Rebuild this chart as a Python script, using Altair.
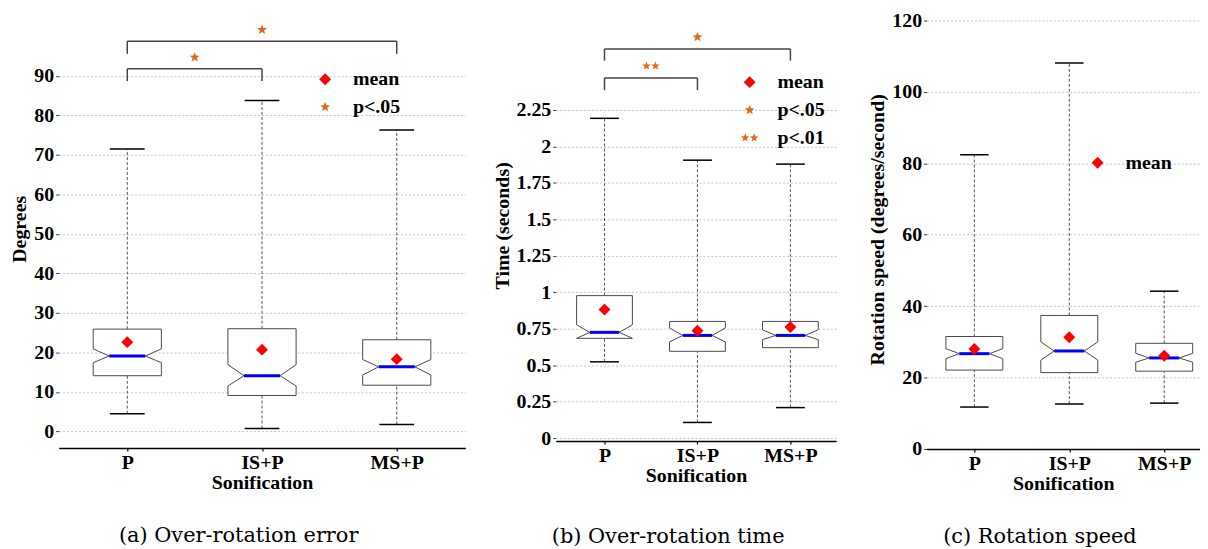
import math
import json
import altair as alt
import pandas as pd

CATS = ["P", "IS+P", "MS+P"]
POS = [1, 2, 3]

# ---------------- (a) Over-rotation error ----------------
A_Q1 = [14.1, 9.1, 11.7]
A_NLO = [17.4, 11.5, 14.3]
A_MED = [19.1, 14.1, 16.35]
A_NHI = [20.9, 16.9, 18.2]
A_Q3 = [25.9, 26.0, 23.2]
A_WLO = [4.5, 0.75, 1.75]
A_WHI = [71.5, 83.8, 76.3]
A_MEAN = [22.6, 20.7, 18.3]
A_PAIRS = [(1, 2), (1, 3)]
A_SIG = ["p<.05", "p<.05"]
A_BR_LOW = [88.7, 95.6]
A_BR_TOP = [91.8, 98.8]
A_STAR = [94.7, 101.7]
A_TICKS = [0, 10, 20, 30, 40, 50, 60, 70, 80, 90]

# ---------------- (b) Over-rotation time ----------------
B_Q1 = [0.684, 0.595, 0.62]
B_NLO = [0.684, 0.659, 0.675]
B_MED = [0.725, 0.704, 0.704]
B_NHI = [0.777, 0.755, 0.743]
B_Q3 = [0.977, 0.80, 0.80]
B_WLO = [0.523, 0.107, 0.209]
B_WHI = [2.193, 1.906, 1.879]
B_MEAN = [0.881, 0.736, 0.761]
B_PAIRS = [(1, 2), (1, 3)]
B_SIG = ["p<.01", "p<.05"]
B_BR_LOW = [2.386, 2.589]
B_BR_TOP = [2.470, 2.668]
B_STAR = [2.552, 2.750]
B_TICKS = [0, 0.25, 0.5, 0.75, 1, 1.25, 1.5, 1.75, 2, 2.25]

# ---------------- (c) Rotation speed ----------------
C_Q1 = [22.1, 21.4, 21.8]
C_NLO = [25.3, 24.9, 24.3]
C_MED = [26.7, 27.45, 25.5]
C_NHI = [28.1, 30.0, 26.8]
C_Q3 = [31.5, 37.4, 29.6]
C_WLO = [11.75, 12.6, 12.85]
C_WHI = [82.4, 108.1, 44.2]
C_MEAN = [28.0, 31.3, 26.1]
C_TICKS = [0, 20, 40, 60, 80, 100, 120]

# ---------------- styling ----------------
FONT = "Liberation Serif"
CAP_FONT = "DejaVu Serif"
NOTCH = 0.53
SYM_SIZE = 324
ORANGE = "#E06A1B"


def star_path(cx, r_out, r_in):
    pts = []
    for k in range(10):
        ang = -math.pi / 2 + k * math.pi / 5
        r = r_out if k % 2 == 0 else r_in
        pts.append((cx + r * math.cos(ang), r * math.sin(ang)))
    return "M" + "L".join(f"{x:.3f},{y:.3f}" for x, y in pts) + "Z"


DIAMOND = "M0,-0.667L0.667,0L0,0.667L-0.667,0Z"
STAR1 = star_path(0, 0.58, 0.25)
STAR2 = star_path(-0.5, 0.5, 0.215) + star_path(0.5, 0.5, 0.215)
SHAPES = {"mean": DIAMOND, "p<.05": STAR1, "p<.01": STAR2}
COLORS = {"mean": "#ff0000", "p<.05": ORANGE, "p<.01": ORANGE}

LABEL_EXPR = json.dumps(CATS) + "[datum.value - 1]"
TEXT = dict(labelFont=FONT, labelFontWeight="bold", labelFontSize=20, labelColor="black",
            titleFont=FONT, titleFontWeight="bold", titleFontSize=20, titleColor="black")


def panel(q1, nlo, med, nhi, q3, wlo, whi, mean, pairs, sig, br_low, br_top, star_y,
          ticks, xdom, ydom, width, height, hw, cap, ytitle, caption, kinds,
          legx, legy, cap_offset, cap_dx, xlab_pad, xtitle_pad):
    xs = alt.Scale(domain=xdom, nice=False, zero=False)
    ys = alt.Scale(domain=ydom, nice=False, zero=False)
    xaxis = alt.Axis(values=POS, labelExpr=LABEL_EXPR, title="Sonification", grid=False,
                     domain=True, domainColor="black", domainWidth=1.5,
                     ticks=True, tickSize=3, tickColor="black", tickWidth=1.2,
                     labelPadding=xlab_pad, titlePadding=xtitle_pad, labelAngle=0,
                     **TEXT)
    yaxis = alt.Axis(values=ticks, labelExpr="'' + datum.value", title=ytitle, grid=True,
                     gridColor="#c4c4c4", gridDash=[2, 2], gridWidth=1,
                     domain=False, ticks=True, tickSize=3, tickColor="#333333",
                     labelPadding=2, titlePadding=4, **TEXT)
    X = alt.X("x:Q", scale=xs, axis=xaxis)
    Y = alt.Y("y:Q", scale=ys, axis=yaxis)

    box_rows, whisk_rows, cap_rows, med_rows, pt_rows, br_rows = [], [], [], [], [], []
    for i, p in enumerate(POS):
        for yv, f in [(q1[i], 1), (nlo[i], 1), (med[i], NOTCH), (nhi[i], 1), (q3[i], 1)]:
            box_rows.append(dict(cat=CATS[i], y=yv, x=p - hw * f, x2=p + hw * f))
        whisk_rows.append(dict(x=p, y=q3[i], y2=whi[i]))
        whisk_rows.append(dict(x=p, y=wlo[i], y2=q1[i]))
        cap_rows.append(dict(x=p - cap, x2=p + cap, y=whi[i]))
        cap_rows.append(dict(x=p - cap, x2=p + cap, y=wlo[i]))
        med_rows.append(dict(x=p - hw * NOTCH, x2=p + hw * NOTCH, y=med[i]))
        pt_rows.append(dict(x=p, y=mean[i], kind="mean"))
    for (a, b), s, lo, top, sy in zip(pairs, sig, br_low, br_top, star_y):
        br_rows.append(dict(x=a, x2=b, y=top, y2=top))
        br_rows.append(dict(x=a, x2=a, y=lo, y2=top))
        br_rows.append(dict(x=b, x2=b, y=lo, y2=top))
        pt_rows.append(dict(x=(a + b) / 2, y=sy, kind=s))

    box = alt.Chart(pd.DataFrame(box_rows)).mark_area(
        orient="horizontal", fill="white", stroke="#4a4a4a", strokeWidth=1, opacity=1
    ).encode(y=Y, x=X, x2="x2:Q", detail="cat:N")

    whisk = alt.Chart(pd.DataFrame(whisk_rows)).mark_rule(
        stroke="#555555", strokeDash=[3, 2], strokeWidth=1
    ).encode(x=X, y=Y, y2="y2:Q")

    caps = alt.Chart(pd.DataFrame(cap_rows)).mark_rule(
        stroke="black", strokeWidth=1.5
    ).encode(x=X, x2="x2:Q", y=Y)

    meds = alt.Chart(pd.DataFrame(med_rows)).mark_rule(
        stroke="#0000ff", strokeWidth=3
    ).encode(x=X, x2="x2:Q", y=Y)

    layers = [whisk, box, caps, meds]
    if br_rows:
        brk = alt.Chart(pd.DataFrame(br_rows)).mark_rule(
            stroke="#444444", strokeWidth=1.5
        ).encode(x=X, x2="x2:Q", y=Y, y2="y2:Q")
        layers.append(brk)

    leg = alt.Legend(orient="none", legendX=legx, legendY=legy, title=None,
                     labelFont=FONT, labelFontWeight="bold", labelFontSize=20,
                     labelColor="black", symbolSize=SYM_SIZE, symbolStrokeWidth=0,
                     symbolOpacity=1, labelOffset=18, rowPadding=8, padding=0)
    pts = alt.Chart(pd.DataFrame(pt_rows)).mark_point(
        filled=True, size=SYM_SIZE, opacity=1, strokeWidth=0
    ).encode(
        x=X, y=Y,
        shape=alt.Shape("kind:N", scale=alt.Scale(domain=kinds, range=[SHAPES[k] for k in kinds]), legend=leg),
        color=alt.Color("kind:N", scale=alt.Scale(domain=kinds, range=[COLORS[k] for k in kinds]), legend=leg),
    )
    layers.append(pts)

    return alt.layer(*layers).properties(
        width=width, height=height,
        title=alt.TitleParams(text=caption, orient="bottom", anchor="middle", frame="bounds",
                              font=CAP_FONT, fontSize=21, fontWeight="normal", color="black",
                              offset=cap_offset, dx=cap_dx),
    )


pa = panel(A_Q1, A_NLO, A_MED, A_NHI, A_Q3, A_WLO, A_WHI, A_MEAN, A_PAIRS, A_SIG,
           A_BR_LOW, A_BR_TOP, A_STAR, A_TICKS,
           xdom=[0.491, 3.509], ydom=[-4.2, 106.8], width=409, height=441,
           hw=0.253, cap=0.129, ytitle="Degrees", caption="(a) Over-rotation error",
           kinds=["mean", "p<.05"], legx=258, legy=60, cap_offset=33, cap_dx=1,
           xlab_pad=2, xtitle_pad=0)

pb = panel(B_Q1, B_NLO, B_MED, B_NHI, B_Q3, B_WLO, B_WHI, B_MEAN, B_PAIRS, B_SIG,
           B_BR_LOW, B_BR_TOP, B_STAR, B_TICKS,
           xdom=[0.476, 3.492], ydom=[-0.0205, 2.939], width=282, height=434,
           hw=0.30, cap=0.155, ytitle="Time (seconds)", caption="(b) Over-rotation time",
           kinds=["mean", "p<.05", "p<.01"], legx=185, legy=63, cap_offset=41, cap_dx=4,
           xlab_pad=2, xtitle_pad=0)

pc = panel(C_Q1, C_NLO, C_MED, C_NHI, C_Q3, C_WLO, C_WHI, C_MEAN, [], [], [], [], [],
           C_TICKS,
           xdom=[0.497, 3.377], ydom=[0, 123.06], width=275, height=442,
           hw=0.30, cap=0.15, ytitle="Rotation speed (degrees/second)",
           caption="(c) Rotation speed",
           kinds=["mean"], legx=162, legy=144, cap_offset=33, cap_dx=6,
           xlab_pad=2, xtitle_pad=0)

chart = alt.hconcat(pa, pb, pc, spacing=91, bounds="flush").resolve_scale(
    x="independent", y="independent", color="independent", shape="independent"
).resolve_legend(color="independent", shape="independent").properties(
    padding={"left": 2, "top": 0, "right": 0, "bottom": 0}, background="white"
).configure_view(strokeWidth=0)

chart.save("out.html", embed_options={"renderer": "svg", "actions": False})
